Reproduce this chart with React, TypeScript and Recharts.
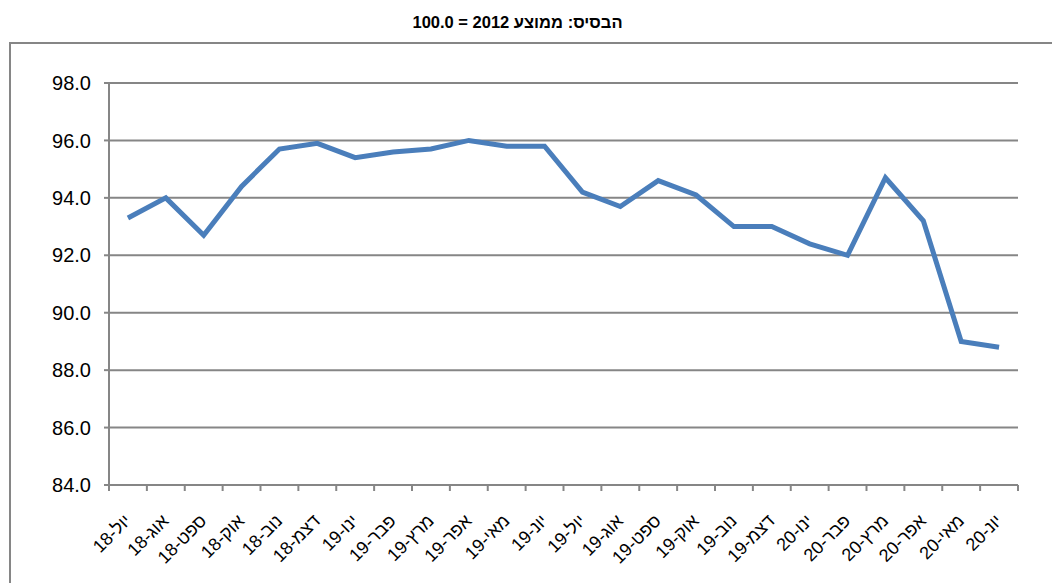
import React from 'react';
import { LineChart, Line, XAxis, YAxis, CartesianGrid } from 'recharts';

const TITLE = 'הבסיס: ממוצע 2012 = 100.0';

const months = [
  'יול-18', 'אוג-18', 'ספט-18', 'אוק-18', 'נוב-18', 'דצמ-18',
  'ינו-19', 'פבר-19', 'מרץ-19', 'אפר-19', 'מאי-19', 'יונ-19',
  'יול-19', 'אוג-19', 'ספט-19', 'אוק-19', 'נוב-19', 'דצמ-19',
  'ינו-20', 'פבר-20', 'מרץ-20', 'אפר-20', 'מאי-20', 'יונ-20',
];

const values = [
  93.3, 94.0, 92.7, 94.4, 95.7, 95.9,
  95.4, 95.6, 95.7, 96.0, 95.8, 95.8,
  94.2, 93.7, 94.6, 94.1, 93.0, 93.0,
  92.4, 92.0, 94.7, 93.2, 89.0, 88.8,
];

const yTicks = [84, 86, 88, 90, 92, 94, 96, 98];

const data = months.map((m, i) => ({ m, v: values[i], idx: i }));
const edgeTicks = Array.from({ length: months.length + 1 }, (_, i) => i);

const FONT = 'Arial, "Liberation Sans", sans-serif';
const GRAY = '#868686';

const XTick = (props: any) => {
  const { x, y, payload } = props;
  return (
    <g transform={`translate(${x + 4},${y + 28})`}>
      <text
        x={0}
        y={0}
        textAnchor="end"
        transform="rotate(-45)"
        fontSize={18}
        fontFamily={FONT}
        fill="#000"
      >
        {payload.value}
      </text>
    </g>
  );
};

export default function App() {
  return (
    <div style={{ position: 'absolute', left: 0, top: 0, width: 1052, height: 583, background: '#fff', overflow: 'hidden' }}>
      <div
        dir="rtl"
        style={{
          position: 'absolute', left: 0, top: 13, width: 1035, textAlign: 'center',
          fontFamily: FONT, fontWeight: 'bold', fontSize: 16.5, color: '#000',
        }}
      >
        {TITLE}
      </div>
      <div
        style={{
          position: 'absolute', left: 9, top: 42, width: 1060, height: 600,
          border: `2px solid ${GRAY}`, boxSizing: 'border-box',
        }}
      />
      <div style={{ position: 'absolute', left: 0, top: 0 }}>
        <LineChart width={1052} height={583} data={data} margin={{ top: 83, right: 34, bottom: 8, left: 49 }}>
          <CartesianGrid xAxisId="b_cat" vertical={false} stroke={GRAY} strokeWidth={2} />
          <XAxis
            xAxisId="a_edge"
            type="number"
            dataKey="idx"
            domain={[0, months.length]}
            allowDataOverflow
            ticks={edgeTicks}
            interval={0}
            tickFormatter={() => ''}
            tickSize={6}
            height={1}
            axisLine={{ stroke: GRAY, strokeWidth: 2 }}
            tickLine={{ stroke: GRAY, strokeWidth: 2 }}
          />
          <XAxis
            xAxisId="b_cat"
            dataKey="m"
            scale="band"
            interval={0}
            axisLine={false}
            tickLine={false}
            height={89}
            tick={<XTick />}
          />
          <YAxis
            domain={[84, 98]}
            ticks={yTicks}
            interval={0}
            width={60}
            tickSize={5}
            tickMargin={13}
            tickFormatter={(v: number) => v.toFixed(1)}
            tick={{ fontSize: 20, fontFamily: FONT, fill: '#000' }}
            axisLine={{ stroke: GRAY, strokeWidth: 2 }}
            tickLine={{ stroke: GRAY, strokeWidth: 2 }}
          />
          <Line
            xAxisId="b_cat"
            type="linear"
            dataKey="v"
            stroke="#4A7EBB"
            strokeWidth={5}
            dot={false}
            isAnimationActive={false}
          />
        </LineChart>
      </div>
    </div>
  );
}
